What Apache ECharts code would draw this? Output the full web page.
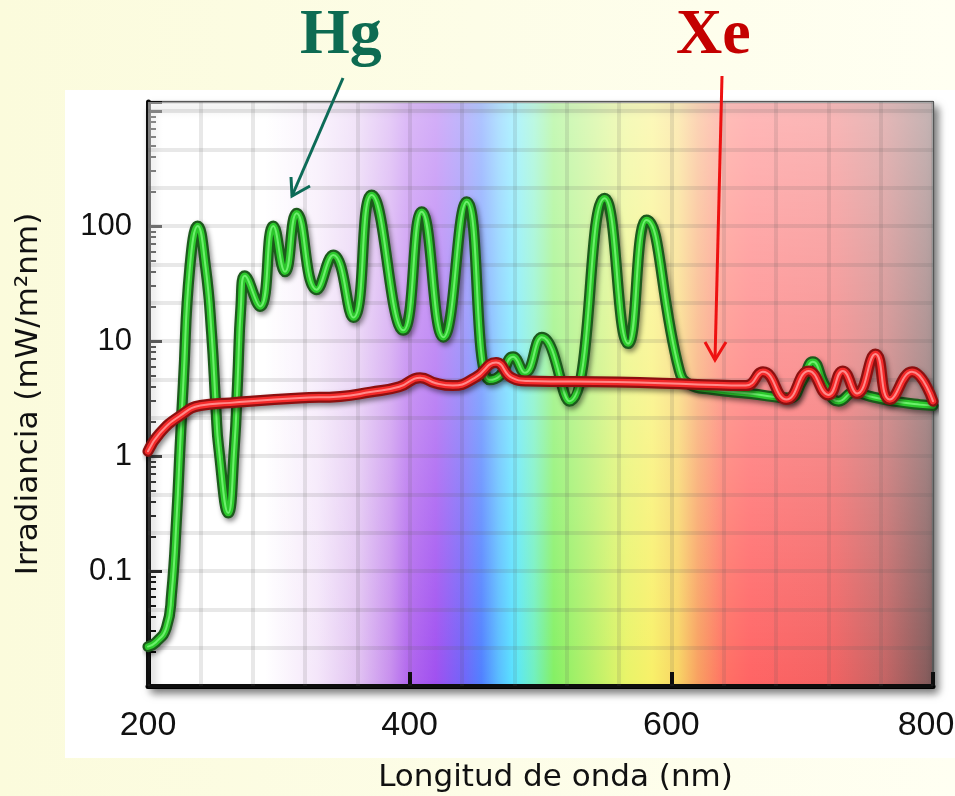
<!DOCTYPE html>
<html>
<head>
<meta charset="utf-8">
<script src="https://cdn.jsdelivr.net/npm/echarts@6/dist/echarts.min.js"></script>
<style>
  html, body { margin: 0; padding: 0; }
  body { width: 955px; height: 796px; background: linear-gradient(to right, #fbfbdc, #fffff2); position: relative; overflow: hidden; }
  #panel { position: absolute; left: 65px; top: 90px; width: 890px; height: 668px; background: #fff; }
  #chart { position: absolute; left: 0; top: 0; width: 955px; height: 796px; }
</style>
</head>
<body>
<div id="panel"></div>
<div id="chart"></div>
<script>
// Hg lamp spectrum (nm, mW/m2nm)
var hgWavelength = [200, 206, 214, 218, 222, 224.5, 227, 232, 238, 244, 248.6, 252, 254, 261.3, 266, 268.5, 271, 274,
  285.6, 295.8, 304.7, 313.6, 328.9, 341.6, 356.9, 370.9, 395.1, 409.2, 425.7, 443.6, 461, 469, 479, 488, 501, 522,
  549, 567, 581, 606, 614, 630, 660, 690, 700, 708, 718, 728, 740, 752, 770, 790, 800];
var hgIrradiance = [0.022, 0.024, 0.032, 0.063, 0.31, 1.2, 4.3, 44, 100, 44, 11.6, 2.5, 1.2, 0.32, 1.2, 4.5, 20, 37,
  20, 100, 40, 129, 28, 56, 16, 186, 12.4, 133, 10.8, 163, 4.6, 5, 7.3, 5.3, 10.8, 3.0,
  175, 9.5, 113, 5.6, 4.2, 3.8, 3.5, 3.2, 4.5, 6.6, 4.0, 3.0, 3.6, 3.3, 3.0, 2.8, 2.75];

// Xe lamp spectrum
var xeWavelength = [200, 209, 224.5, 240, 262.7, 316, 347, 370, 392, 408, 420, 433, 450, 466, 478, 490, 558, 620, 657,
  670, 688, 705, 720, 731, 742, 756, 767, 784, 800];
var xeIrradiance = [1.1, 1.58, 2.24, 2.75, 2.9, 3.2, 3.3, 3.6, 4.0, 4.8, 4.3, 4.1, 4.8, 6.5, 4.8, 4.5, 4.4, 4.2, 4.1,
  5.4, 3.1, 5.5, 3.4, 5.5, 3.5, 7.7, 3.1, 5.4, 3.0];

var xTickLabels = [200, 400, 600, 800];
var yTickLabels = ['0.1', '1', '10', '100'];

// visible spectrum behind the plot
var spectrumNm = [200, 290, 330, 360, 385, 400, 420, 440, 455, 468, 480, 495, 510, 535, 565, 585, 605, 620, 640, 660, 720, 760, 800];
var spectrumColor = ['#ffffff', '#ffffff', '#f4e6fa', '#e2c4f2', '#c890ee', '#b064ee', '#a050f0', '#7462f8', '#5080ff',
  '#58bcff', '#58e6ff', '#70f0c0', '#84f064', '#b0f068', '#e8f468', '#f8f068', '#f8d464', '#f8a060', '#ff7064', '#ff6464',
  '#f46262', '#c86464', '#7c5a5a'];

var myChart = echarts.init(document.getElementById('chart'), null, { renderer: 'canvas' });

function pairs(xs, ys) {
  return xs.map(function (x, i) { return [x, ys[i]]; });
}
var hgData = pairs(hgWavelength, hgIrradiance);
var xeData = pairs(xeWavelength, xeIrradiance);

var bg = new echarts.graphic.LinearGradient(0, 0, 1, 0, spectrumNm.map(function (nm, i) {
  return { offset: (nm - 200) / 600, color: spectrumColor[i] };
}));

function lineLayer(name, data, color, width, z, shadow) {
  var s = {
    name: name,
    type: 'line',
    data: data,
    xAxisIndex: 0,
    yAxisIndex: 0,
    smooth: 0.5,
    symbol: 'none',
    silent: true,
    z: z,
    lineStyle: { color: color, width: width, cap: 'round', join: 'round' }
  };
  if (shadow) {
    s.lineStyle.shadowColor = 'rgba(0,0,0,0.45)';
    s.lineStyle.shadowBlur = 5;
    s.lineStyle.shadowOffsetX = 2;
    s.lineStyle.shadowOffsetY = 3;
  }
  return s;
}

var sans = "'Liberation Sans', Arial, Helvetica, sans-serif";

var option = {
  animation: false,
  grid: {
    show: true,
    left: 148,
    top: 102,
    width: 785,
    height: 584,
    outerBoundsMode: 'none',
    containLabel: false,
    backgroundColor: bg,
    borderColor: '#555',
    borderWidth: 2,
    shadowColor: 'rgba(0,0,0,0.55)',
    shadowBlur: 8,
    shadowOffsetX: 4,
    shadowOffsetY: 6
  },
  xAxis: [{
    type: 'value',
    min: 200,
    max: 800,
    interval: 200,
    name: 'Longitud de onda (nm)',
    nameLocation: 'middle',
    nameGap: 76,
    nameTextStyle: { fontFamily: 'DejaVu Sans', fontSize: 31, color: '#111', padding: [0, 0, 0, 30] },
    axisLine: { show: true, onZero: false, lineStyle: { color: '#000', width: 5 } },
    axisTick: { show: true, inside: true, length: 14, lineStyle: { color: '#000', width: 4 } },
    axisLabel: {
      margin: 23,
      fontFamily: sans,
      fontSize: 34,
      color: '#111',
      formatter: function (v) {
        if (xTickLabels.indexOf(v) < 0) return '';
        return v === xTickLabels[xTickLabels.length - 1] ? '{last|' + v + '}' : String(v);
      },
      rich: {
        last: { fontFamily: sans, fontSize: 34, color: '#111', padding: [0, 14, 0, 0] }
      }
    },
    splitLine: { show: false }
  }, {
    type: 'value',
    min: 200,
    max: 800,
    interval: 40,
    position: 'bottom',
    z: 1.5,
    axisLine: { show: false, onZero: false },
    axisTick: { show: false },
    axisLabel: { show: false },
    splitLine: { show: true, lineStyle: { color: 'rgba(90,90,90,0.14)', width: 4 } }
  }],
  yAxis: [{
    type: 'log',
    min: 0.01,
    max: 1200,
    name: 'Irradiancia (mW/m²nm)',
    nameLocation: 'middle',
    nameGap: 104,
    nameTextStyle: { fontFamily: 'DejaVu Sans', fontSize: 31, color: '#111' },
    axisLine: { show: true, onZero: false, lineStyle: { color: '#000', width: 5 } },
    axisTick: { show: true, inside: true, length: 14, lineStyle: { color: '#000', width: 3 } },
    minorTick: { show: true, splitNumber: 9, length: 8, lineStyle: { color: '#000', width: 2 } },
    axisLabel: {
      margin: 16,
      fontFamily: sans,
      fontSize: 31,
      color: '#111',
      formatter: function (v) {
        for (var i = 0; i < yTickLabels.length; i++) {
          if (Math.abs(Math.log10(v) - Math.log10(parseFloat(yTickLabels[i]))) < 1e-6) return yTickLabels[i];
        }
        return '';
      }
    },
    splitLine: { show: false }
  }, {
    type: 'value',
    min: -6,
    max: 3 * Math.log10(1200),
    interval: 1,
    position: 'left',
    z: 1.5,
    axisLine: { show: false, onZero: false },
    axisTick: { show: false },
    axisLabel: { show: false },
    splitLine: { show: true, lineStyle: { color: 'rgba(90,90,90,0.14)', width: 4 } }
  }],
  graphic: [
    { type: 'text', left: 300, top: 4, z: 10, style: { text: 'Hg', fill: '#0d6b52', font: 'bold 64px "Liberation Serif"' } },
    { type: 'text', left: 676, top: 4, z: 10, style: { text: 'Xe', fill: '#c40000', font: 'bold 64px "Liberation Serif"' } },
    { type: 'line', z: 10, shape: { x1: 343, y1: 78, x2: 292, y2: 196 }, style: { stroke: '#0d6b58', lineWidth: 3 } },
    { type: 'polyline', z: 10, shape: { points: [[291, 177], [292, 196], [310, 186]] }, style: { stroke: '#0d6b58', lineWidth: 3, fill: null } },
    { type: 'line', z: 10, shape: { x1: 722, y1: 76, x2: 715, y2: 360 }, style: { stroke: '#ee1111', lineWidth: 3 } },
    { type: 'polyline', z: 10, shape: { points: [[705, 342], [715, 360], [726, 342]] }, style: { stroke: '#ee1111', lineWidth: 3, fill: null } }
  ],
  series: [
    {
      name: 'wash',
      type: 'line',
      data: [],
      z: 1,
      silent: true,
      markArea: {
        silent: true,
        itemStyle: {
          color: new echarts.graphic.LinearGradient(0, 0, 0, 1, [
            { offset: 0, color: 'rgba(255,255,255,0.55)' },
            { offset: 0.5, color: 'rgba(255,255,255,0.3)' },
            { offset: 1, color: 'rgba(255,255,255,0)' }
          ])
        },
        data: [[{ coord: [200, 1200] }, { coord: [800, 0.01] }]]
      }
    },
    lineLayer('Hg', hgData, '#1c5a1c', 11, 3, true),
    lineLayer('Hg', hgData, '#2cc82c', 6.5, 4, false),
    lineLayer('Hg', hgData, '#6cf06c', 2, 5, false),
    lineLayer('Xe', xeData, '#8c1010', 11, 6, true),
    lineLayer('Xe', xeData, '#f42a2a', 6.5, 7, false),
    lineLayer('Xe', xeData, '#ff8a8a', 2, 8, false)
  ]
};
myChart.setOption(option);
window.addEventListener('resize', function () {
  myChart.resize();
});
</script>
</body>
</html>
